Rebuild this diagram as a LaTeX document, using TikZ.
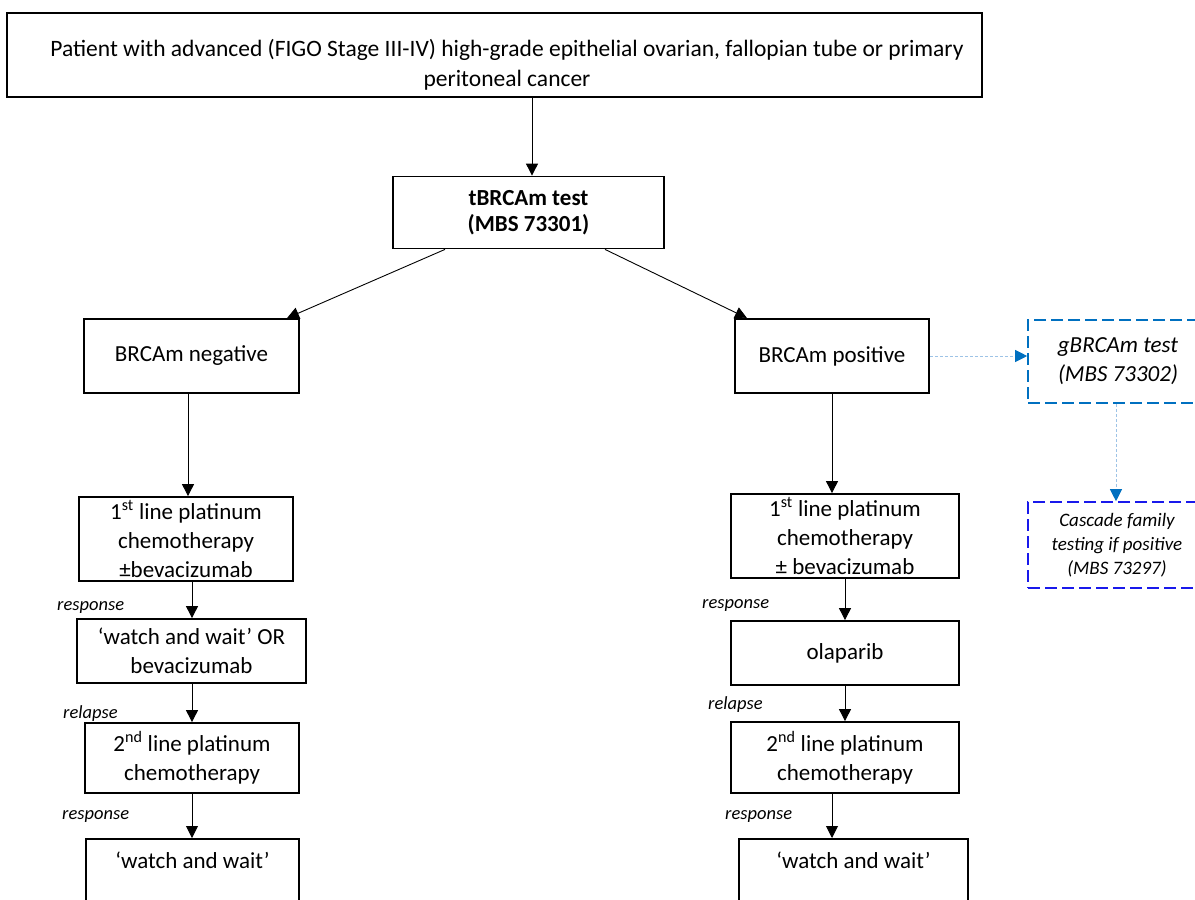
\documentclass[tikz,border=0pt]{standalone}
\usepackage{fontspec}
\setmainfont{Carlito}
\usetikzlibrary{arrows.meta}
\definecolor{dblue}{HTML}{0070C0}
\definecolor{vblue}{RGB}{25,25,235}
\definecolor{lblue}{HTML}{9DC3E6}
\begin{document}
\begin{tikzpicture}[x=1pt,y=-1pt,
  box/.style={draw,line width=1.8pt,inner sep=0pt,align=center,font=\fontsize{23}{29}\selectfont},
  lab/.style={inner sep=0pt,anchor=base west,font=\fontsize{18.5}{22}\selectfont\itshape},
  arr/.style={-{Triangle[width=12pt,length=12pt]},line width=0.9pt},
  barr/.style={-{Triangle[width=12pt,length=12pt,color=dblue]},draw=lblue,line width=0.9pt,dash pattern=on 3pt off 2pt},
  gbox/.style={draw=dblue,line width=1.6pt,dash pattern=on 12pt off 5pt,inner sep=0pt,align=center},
  cbox/.style={draw=vblue,line width=1.6pt,dash pattern=on 12pt off 5pt,inner sep=0pt,align=center}]
\useasboundingbox (0,0) rectangle (1195,900);
\clip (0,0) rectangle (1195,900);
% column coordinates
\coordinate (xa) at (532,0);
\coordinate (xt1) at (445,0);
\coordinate (xn) at (287,0);
\coordinate (xt2) at (605,0);
\coordinate (xp) at (747,0);
\coordinate (xl1) at (188,0);
\coordinate (xl2) at (192,0);
\coordinate (xr1) at (832,0);
\coordinate (xr2) at (845,0);
\coordinate (xg) at (1116,0);
% nodes
\node[box,minimum width=975pt,minimum height=84pt] (top) at (494.5,55) {};
\node[inner sep=0pt,align=center,font=\fontsize{23.5}{30}\selectfont] (toptext) at (507,64.5)
  {Patient with advanced (FIGO Stage III-IV) high-grade epithelial ovarian, fallopian tube or primary\\peritoneal cancer};
\node[box,minimum width=271pt,minimum height=72pt,font=\fontsize{23}{26}\selectfont\bfseries] (t) at (528.5,212.5) {tBRCAm test\\(MBS 73301)};
\node[box,minimum width=215pt,minimum height=74pt] (neg) at (191.5,356) {BRCAm negative};
\node[box,minimum width=194pt,minimum height=74pt] (pos) at (832,356) {BRCAm positive};
\node[gbox,minimum width=180pt,minimum height=83pt,font=\fontsize{23}{29}\selectfont\itshape] (gb) at (1118,361.5) {gBRCAm test\\(MBS 73302)};
\node[cbox,minimum width=178pt,minimum height=86pt,font=\fontsize{19}{24}\selectfont\itshape] (casc) at (1117,545) {Cascade family\\testing if positive\\(MBS 73297)};
% left column
\node[box,minimum width=214pt,minimum height=84pt] (l1) at (186,539) {1\textsuperscript{st} line platinum\\chemotherapy\\±bevacizumab};
\node[box,minimum width=229pt,minimum height=64pt] (l2) at (191.5,651) {‘watch and wait’ OR\\bevacizumab};
\node[box,minimum width=214pt,minimum height=70pt] (l3) at (192,758) {2\textsuperscript{nd} line platinum\\chemotherapy};
\node[box,minimum width=213pt,minimum height=80pt,anchor=north,text depth=37pt] (l4) at (192.5,838) {‘watch and wait’};
% right column
\node[box,minimum width=228pt,minimum height=84pt] (r1) at (845,536) {1\textsuperscript{st} line platinum\\chemotherapy\\± bevacizumab};
\node[box,minimum width=228pt,minimum height=64pt] (r2) at (845,653) {olaparib};
\node[box,minimum width=228pt,minimum height=71pt] (r3) at (845,757.5) {2\textsuperscript{nd} line platinum\\chemotherapy};
\node[box,minimum width=229pt,minimum height=80pt,anchor=north,text depth=37pt] (r4) at (853.5,838) {‘watch and wait’};
% labels
\node[lab] (la1) at (57,610) {response};
\node[lab] (la2) at (63,718) {relapse};
\node[lab] (la3) at (62,819) {response};
\node[lab] (ra1) at (702,608) {response};
\node[lab] (ra2) at (708,709) {relapse};
\node[lab] (ra3) at (725,819) {response};
% connectors
\draw[arr] (top.south -| xa) -- (t.north -| xa);
\draw[arr] (t.south -| xt1) -- (neg.north -| xn);
\draw[arr] (t.south -| xt2) -- (pos.north -| xp);
\draw[arr] (neg.south -| xl1) -- (l1.north -| xl1);
\draw[arr] (l1.south -| xl2) -- (l2.north -| xl2);
\draw[arr] (l2.south -| xl2) -- (l3.north -| xl2);
\draw[arr] (l3.south -| xl2) -- (l4.north -| xl2);
\draw[arr] (pos.south -| xr1) -- (r1.north -| xr1);
\draw[arr] (r1.south -| xr2) -- (r2.north -| xr2);
\draw[arr] (r2.south -| xr2) -- (r3.north -| xr2);
\draw[arr] (r3.south -| xr1) -- (r4.north -| xr1);
\draw[barr] (pos.east) -- (pos.east -| gb.west);
\draw[barr] (gb.south -| xg) -- (casc.north -| xg);
\end{tikzpicture}
\end{document}
